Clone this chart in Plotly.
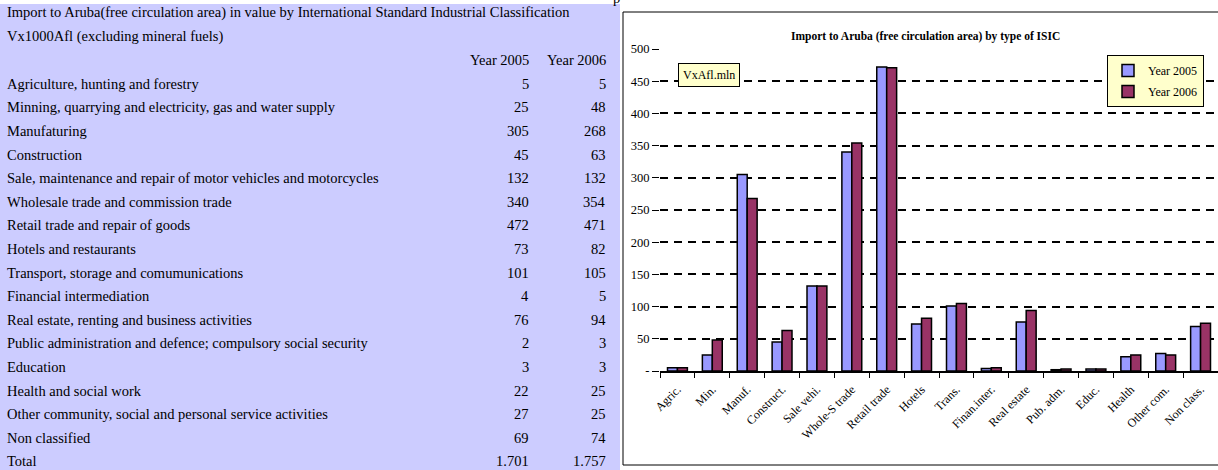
import plotly.graph_objects as go

W, H = 1218, 470
SERIF = "Liberation Serif"

# table data
table_title = [
    "Import to Aruba(free circulation area) in value by International Standard Industrial Classification",
    "Vx1000Afl (excluding mineral fuels)",
]
table_header = ["Year 2005", "Year 2006"]
sectors = [
    "Agriculture, hunting and forestry",
    "Minning, quarrying and electricity, gas and water supply",
    "Manufaturing",
    "Construction",
    "Sale, maintenance and repair of motor vehicles and motorcycles",
    "Wholesale trade and commission trade",
    "Retail trade and repair of goods",
    "Hotels and restaurants",
    "Transport, storage and comumunications",
    "Financial intermediation",
    "Real estate, renting and business activities",
    "Public administration and defence; compulsory social security",
    "Education",
    "Health and social work",
    "Other community, social and personal service activities",
    "Non classified",
]
total_label = "Total"
total_2005 = "1.701"
total_2006 = "1.757"

# chart data
short_labels = [
    "Agric.", "Min.", "Manuf.", "Construct.", "Sale vehi.", "Whole-S trade",
    "Retail trade", "Hotels", "Trans.", "Finan.inter.", "Real estate",
    "Pub. adm.", "Educ.", "Health", "Other com.", "Non class.",
]
year_2005 = [5, 25, 305, 45, 132, 340, 472, 73, 101, 4, 76, 2, 3, 22, 27, 69]
year_2006 = [5, 48, 268, 63, 132, 354, 471, 82, 105, 5, 94, 3, 3, 25, 25, 74]
y_tickvals = [0, 50, 100, 150, 200, 250, 300, 350, 400, 450, 500]
y_ticktext = ["-", "50", "100", "150", "200", "250", "300", "350", "400", "450", "500"]

chart_title = "Import to Aruba (free circulation area) by type of ISIC"
unit_label = "VxAfl.mln"
cut_text = "p"  # fragment of a line cut off above the table

LAVENDER = "#CCCCFF"
YELLOW = "#FFFFCC"
ROW_H = 23.6
TFONT = dict(family=SERIF, size=14.5, color="black")


def px_x(v):
    return v / W


def px_y(v):
    # pixel from top -> paper
    return (H - v) / H


fig = go.Figure()

# bars
fig.add_trace(go.Bar(
    x=short_labels, y=year_2005, name="Year 2005",
    marker=dict(color="#9999FF", line=dict(color="black", width=1.5)),
    legendgroup="a",
))
fig.add_trace(go.Bar(
    x=short_labels, y=year_2006, name="Year 2006",
    marker=dict(color="#993366", line=dict(color="black", width=1.5)),
    legendgroup="b",
))

# left table as text cells
annotations = []


def cell(text, x, row, anchor):
    annotations.append(dict(
        x=px_x(x), y=px_y(13 + row * ROW_H), xref="paper", yref="paper",
        xanchor=anchor, yanchor="middle", showarrow=False, text=text,
        font=TFONT,
    ))


for i, line in enumerate(table_title):
    cell(line, 5, i, "left")
cell(table_header[0], 531, 2, "right")
cell(table_header[1], 608, 2, "right")

rows = list(zip(sectors, year_2005, year_2006)) + [(total_label, total_2005, total_2006)]
for i, (lab, a, b) in enumerate(rows):
    r = 3 + i
    cell(lab, 5, r, "left")
    cell(str(a), 531, r, "right")
    cell(str(b), 608, r, "right")

annotations.append(dict(
    x=px_x(616), y=px_y(-2), xref="paper", yref="paper",
    xanchor="center", yanchor="middle", showarrow=False, text=cut_text,
    font=TFONT,
))
annotations.append(dict(
    x=px_x(925), y=px_y(36), xref="paper", yref="paper",
    xanchor="center", yanchor="middle", showarrow=False,
    text=f"<b>{chart_title}</b>",
    font=dict(family=SERIF, size=11.5, color="black"),
))
annotations.append(dict(
    x=px_x(709), y=px_y(75), xref="paper", yref="paper",
    xanchor="center", yanchor="middle", showarrow=False, text=unit_label,
    font=dict(family=SERIF, size=12, color="black"),
    bgcolor=YELLOW, bordercolor="black", borderwidth=1, borderpad=4,
))

shapes = [
    dict(type="rect", xref="paper", yref="paper", layer="below",
         x0=0, x1=px_x(620), y0=0, y1=px_y(4),
         fillcolor=LAVENDER, line=dict(width=0)),
    dict(type="rect", xref="paper", yref="paper", layer="below",
         x0=px_x(623), x1=px_x(1225), y0=px_y(465), y1=px_y(12),
         fillcolor="white", line=dict(color="black", width=1)),
]

fig.update_layout(
    width=W, height=H,
    margin=dict(l=0, r=0, t=0, b=0, autoexpand=False),
    paper_bgcolor="white",
    plot_bgcolor=YELLOW,
    barmode="group",
    bargap=0.43,
    bargroupgap=0,
    font=dict(family=SERIF, color="black"),
    annotations=annotations,
    shapes=shapes,
    legend=dict(
        x=px_x(1204), y=px_y(55), xanchor="right", yanchor="top",
        bgcolor=YELLOW, bordercolor="black", borderwidth=1,
        font=dict(family=SERIF, size=12, color="black"),
        traceorder="grouped", tracegroupgap=2, itemwidth=30,
    ),
    xaxis=dict(
        domain=[px_x(660), 1.0],
        tickangle=-45,
        tickson="boundaries",
        ticks="outside", ticklen=5, tickcolor="black",
        ticklabelstandoff=5,
        showline=True, linecolor="black", linewidth=1.5,
        tickfont=dict(family=SERIF, size=12, color="black"),
        showgrid=False,
    ),
    yaxis=dict(
        domain=[px_y(371), px_y(49)],
        range=[0, 500],
        tickvals=y_tickvals, ticktext=y_ticktext,
        ticks="outside", ticklen=7, tickcolor="black",
        showline=False,
        gridcolor="black", gridwidth=1.5, griddash="8px,6px",
        zeroline=False,
        tickfont=dict(family=SERIF, size=12.5, color="black"),
    ),
)

# page body has a default 8px margin; drop it so the figure fills the window
fig.write_html(
    "out.html",
    config={"displayModeBar": False},
    post_script="document.body.style.margin='0px';",
)
